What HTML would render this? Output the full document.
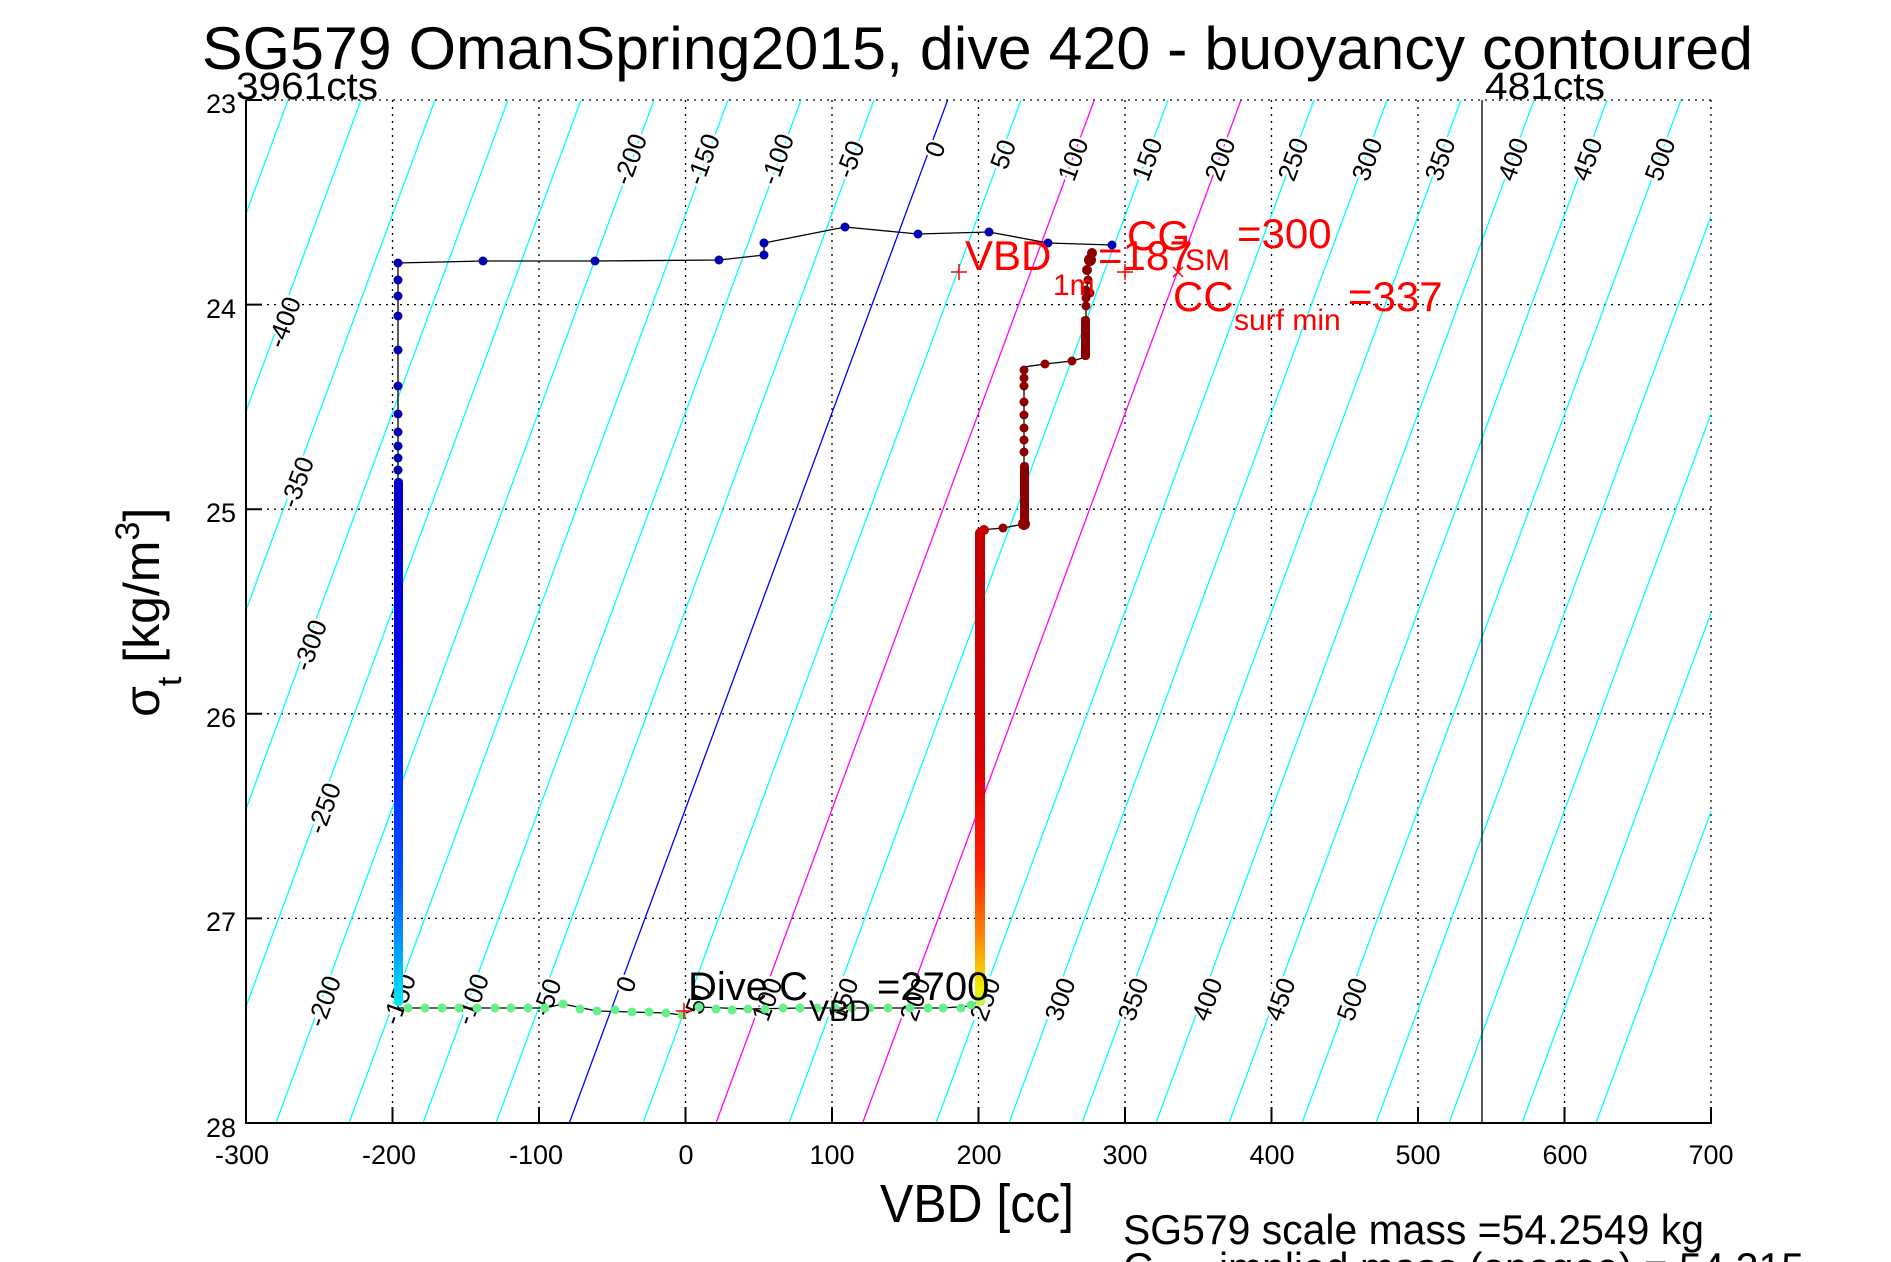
<!DOCTYPE html>
<html><head><meta charset="utf-8"><style>
html,body{margin:0;padding:0;background:#fff;}
svg{display:block;font-family:"Liberation Sans",sans-serif;}
</style></head><body>
<svg width="1891" height="1262" viewBox="0 0 1891 1262" xmlns="http://www.w3.org/2000/svg">
<defs>
<clipPath id="pc"><rect x="246" y="100" width="1465" height="1023"/></clipPath>
<linearGradient id="gb" x1="0" y1="480" x2="0" y2="1008" gradientUnits="userSpaceOnUse">
<stop offset="0" stop-color="#0000c8"/><stop offset="0.3" stop-color="#0000e8"/><stop offset="0.55" stop-color="#0028ff"/><stop offset="0.75" stop-color="#0050ff"/><stop offset="0.88" stop-color="#0098ff"/><stop offset="1" stop-color="#00f0f0"/></linearGradient>
<linearGradient id="gr" x1="0" y1="535" x2="0" y2="1008" gradientUnits="userSpaceOnUse">
<stop offset="0" stop-color="#c00000"/><stop offset="0.5" stop-color="#e00000"/><stop offset="0.7" stop-color="#ff2000"/><stop offset="0.85" stop-color="#ff8800"/><stop offset="0.96" stop-color="#f0f000"/><stop offset="1" stop-color="#b0ff50"/></linearGradient>
</defs>
<rect width="1891" height="1262" fill="#fff"/>
<g stroke="#000" stroke-width="1.3" stroke-dasharray="2,5">
<line x1="392.5" y1="100" x2="392.5" y2="1123"/><line x1="539" y1="100" x2="539" y2="1123"/><line x1="685.5" y1="100" x2="685.5" y2="1123"/><line x1="832" y1="100" x2="832" y2="1123"/><line x1="978.5" y1="100" x2="978.5" y2="1123"/><line x1="1125" y1="100" x2="1125" y2="1123"/><line x1="1271.5" y1="100" x2="1271.5" y2="1123"/><line x1="1418" y1="100" x2="1418" y2="1123"/><line x1="1564.5" y1="100" x2="1564.5" y2="1123"/><line x1="1711" y1="100" x2="1711" y2="1123"/>
<line x1="246" y1="100" x2="1711" y2="100"/><line x1="246" y1="304.6" x2="1711" y2="304.6"/><line x1="246" y1="509.2" x2="1711" y2="509.2"/><line x1="246" y1="713.8" x2="1711" y2="713.8"/><line x1="246" y1="918.4" x2="1711" y2="918.4"/>
</g>
<g clip-path="url(#pc)" stroke-width="1.3" fill="none">
<g stroke="#00ffff">
<line x1="-310" y1="1123" x2="68" y2="100"/><line x1="-237" y1="1123" x2="141" y2="100"/><line x1="-163" y1="1123" x2="215" y2="100"/><line x1="-90" y1="1123" x2="288" y2="100"/><line x1="-17" y1="1123" x2="361" y2="100"/><line x1="56" y1="1123" x2="435" y2="100"/><line x1="130" y1="1123" x2="508" y2="100"/><line x1="203" y1="1123" x2="581" y2="100"/><line x1="276" y1="1123" x2="654" y2="100"/><line x1="349" y1="1123" x2="728" y2="100"/><line x1="423" y1="1123" x2="801" y2="100"/><line x1="496" y1="1123" x2="874" y2="100"/>
<line x1="643" y1="1123" x2="1021" y2="100"/><line x1="789" y1="1123" x2="1168" y2="100"/><line x1="936" y1="1123" x2="1314" y2="100"/><line x1="1009" y1="1123" x2="1387" y2="100"/><line x1="1082" y1="1123" x2="1461" y2="100"/><line x1="1156" y1="1123" x2="1534" y2="100"/><line x1="1229" y1="1123" x2="1607" y2="100"/><line x1="1302" y1="1123" x2="1681" y2="100"/><line x1="1376" y1="1123" x2="1754" y2="100"/><line x1="1449" y1="1123" x2="1827" y2="100"/><line x1="1522" y1="1123" x2="1901" y2="100"/><line x1="1596" y1="1123" x2="1974" y2="100"/>
</g>
<line x1="569.3" y1="1123" x2="947.7" y2="100" stroke="#0000ff"/>
<line x1="716" y1="1123" x2="1094.3" y2="100" stroke="#ff00ff"/>
<line x1="862.6" y1="1123" x2="1241" y2="100" stroke="#ff00ff"/>
</g>
<g font-size="26" fill="#000" stroke="#fff" stroke-width="5" paint-order="stroke" text-anchor="middle" dominant-baseline="middle">
<text transform="translate(632,160) rotate(-69.7)">-200</text><text transform="translate(705,160) rotate(-69.7)">-150</text><text transform="translate(779,160) rotate(-69.7)">-100</text><text transform="translate(852,160) rotate(-69.7)">-50</text><text transform="translate(937,150) rotate(-69.7)">0</text><text transform="translate(1005,155) rotate(-69.7)">50</text><text transform="translate(1075,160) rotate(-69.7)">100</text><text transform="translate(1149,160) rotate(-69.7)">150</text><text transform="translate(1222,160) rotate(-69.7)">200</text><text transform="translate(1295,160) rotate(-69.7)">250</text><text transform="translate(1369,160) rotate(-69.7)">300</text><text transform="translate(1442,160) rotate(-69.7)">350</text><text transform="translate(1515,160) rotate(-69.7)">400</text><text transform="translate(1589,160) rotate(-69.7)">450</text><text transform="translate(1662,160) rotate(-69.7)">500</text>
<text transform="translate(286,323) rotate(-69.7)">-400</text><text transform="translate(299,483) rotate(-69.7)">-350</text><text transform="translate(312,646) rotate(-69.7)">-300</text><text transform="translate(326,809) rotate(-69.7)">-250</text><text transform="translate(326,1002) rotate(-69.7)">-200</text>
<text transform="translate(401,1000) rotate(-69.7)">-150</text><text transform="translate(474,1000) rotate(-69.7)">-100</text><text transform="translate(549,998) rotate(-69.7)">-50</text><text transform="translate(628,985) rotate(-69.7)">0</text><text transform="translate(700,1000) rotate(-69.7)">50</text><text transform="translate(769,1000) rotate(-69.7)">100</text><text transform="translate(845,1000) rotate(-69.7)">150</text><text transform="translate(917,1000) rotate(-69.7)">200</text><text transform="translate(987,1000) rotate(-69.7)">250</text><text transform="translate(1062,1000) rotate(-69.7)">300</text><text transform="translate(1135,1000) rotate(-69.7)">350</text><text transform="translate(1209,1000) rotate(-69.7)">400</text><text transform="translate(1282,1000) rotate(-69.7)">450</text><text transform="translate(1354,1000) rotate(-69.7)">500</text>
</g>
<line x1="1482" y1="100" x2="1482" y2="1123" stroke="#000" stroke-width="1.3"/>
<g stroke="#000" stroke-width="2" fill="none">
<line x1="246" y1="100" x2="246" y2="1124"/><line x1="245" y1="1123" x2="1712" y2="1123"/>
<path d="M392.5 1123v-16M539 1123v-16M685.5 1123v-16M832 1123v-16M978.5 1123v-16M1125 1123v-16M1271.5 1123v-16M1418 1123v-16M1564.5 1123v-16M1711 1123v-16"/>
<path d="M246 100h16M246 304.6h16M246 509.2h16M246 713.8h16M246 918.4h16"/>
</g>
<g font-size="27" fill="#000" text-anchor="end">
<text x="236" y="113">23</text><text x="236" y="318">24</text><text x="236" y="522">25</text><text x="236" y="727">26</text><text x="236" y="931">27</text><text x="236" y="1137">28</text>
</g>
<g font-size="27" fill="#000" text-anchor="middle">
<text x="242" y="1164">-300</text><text x="389" y="1164">-200</text><text x="536" y="1164">-100</text><text x="686" y="1164">0</text><text x="832" y="1164">100</text><text x="979" y="1164">200</text><text x="1125" y="1164">300</text><text x="1272" y="1164">400</text><text x="1418" y="1164">500</text><text x="1565" y="1164">600</text><text x="1711" y="1164">700</text>
</g>
<g fill="none" stroke="#000" stroke-width="1.3">
<polyline points="1112,245 1048,243 989,232 918,234 845,227 764,243 764,255 719,260 595,261 483,261 398,263 398,1008 408,1008 459,1008 545,1008 563,1004 597,1011 666,1013 682,1015 699,1007 748,1009 800,1008 870,1008 943,1008 971,1006 980,1000"/>
<polyline points="980,530 1003,528 1024,524 1024,367 1045,364 1072,361 1086,357 1086,300 1090,256"/>
</g>
<rect x="394" y="478" width="9" height="528" fill="url(#gb)" rx="4"/>
<g fill="#0000b0">
<circle cx="398" cy="263" r="4.5"/><circle cx="398" cy="280" r="4.5"/><circle cx="398" cy="296" r="4.5"/><circle cx="398" cy="316" r="4.5"/><circle cx="398" cy="350" r="4.5"/><circle cx="398" cy="386" r="4.5"/><circle cx="398" cy="414" r="4.5"/><circle cx="398" cy="432" r="4.5"/><circle cx="398" cy="446" r="4.5"/><circle cx="398" cy="458" r="4.5"/><circle cx="398" cy="470" r="4.5"/>
<circle cx="483" cy="261" r="4.5"/><circle cx="595" cy="261" r="4.5"/><circle cx="719" cy="260" r="4.5"/><circle cx="764" cy="255" r="4.5"/><circle cx="764" cy="243" r="4.5"/><circle cx="845" cy="227" r="4.5"/><circle cx="918" cy="234" r="4.5"/><circle cx="989" cy="232" r="4.5"/><circle cx="1048" cy="243" r="4.5"/><circle cx="1112" cy="245" r="4.5"/>
</g>
<g fill="#66ee88">
<circle cx="408" cy="1008" r="4.5"/><circle cx="425" cy="1008" r="4.5"/><circle cx="442" cy="1008" r="4.5"/><circle cx="459" cy="1008" r="4.5"/><circle cx="477" cy="1008" r="4.5"/><circle cx="495" cy="1008" r="4.5"/><circle cx="511" cy="1008" r="4.5"/><circle cx="528" cy="1008" r="4.5"/><circle cx="545" cy="1008" r="4.5"/><circle cx="563" cy="1004" r="4.5"/><circle cx="580" cy="1009" r="4.5"/><circle cx="597" cy="1011" r="4.5"/><circle cx="615" cy="1010" r="4.5"/><circle cx="632" cy="1012" r="4.5"/><circle cx="649" cy="1012" r="4.5"/><circle cx="666" cy="1013" r="4.5"/><circle cx="682" cy="1015" r="4.5"/><circle cx="699" cy="1007" r="4.5"/><circle cx="716" cy="1009" r="4.5"/><circle cx="732" cy="1010" r="4.5"/><circle cx="748" cy="1009" r="4.5"/><circle cx="765" cy="1009" r="4.5"/><circle cx="783" cy="1008" r="4.5"/><circle cx="800" cy="1008" r="4.5"/><circle cx="817" cy="1008" r="4.5"/><circle cx="835" cy="1008" r="4.5"/><circle cx="852" cy="1008" r="4.5"/><circle cx="870" cy="1008" r="4.5"/><circle cx="888" cy="1008" r="4.5"/><circle cx="910" cy="1008" r="4.5"/><circle cx="928" cy="1008" r="4.5"/><circle cx="943" cy="1008" r="4.5"/><circle cx="961" cy="1008" r="4.5"/><circle cx="971" cy="1005" r="4.5"/>
</g>
<rect x="975" y="528" width="10" height="478" fill="url(#gr)" rx="5"/>
<g fill="#8b0000">
<circle cx="1003" cy="528" r="4.5"/><circle cx="1024" cy="524" r="6"/>
<rect x="1020" y="462" width="9" height="64" rx="4"/>
<circle cx="1024" cy="452" r="4.5"/><circle cx="1024" cy="440" r="4.5"/><circle cx="1024" cy="428" r="4.5"/><circle cx="1024" cy="415" r="4.5"/><circle cx="1024" cy="402" r="4.5"/><circle cx="1024" cy="386" r="4.5"/><circle cx="1024" cy="378" r="4.5"/><circle cx="1024" cy="370" r="4.5"/>
<circle cx="1045" cy="364" r="4.5"/><circle cx="1072" cy="361" r="4.5"/>
<rect x="1081" y="316" width="9" height="44" rx="4"/>
<circle cx="1086" cy="306" r="4.5"/><circle cx="1086" cy="298" r="4.5"/><circle cx="1086" cy="290" r="4.5"/><circle cx="1090" cy="293" r="4.5"/><circle cx="1088" cy="280" r="4.5"/><circle cx="1087" cy="270" r="5"/><circle cx="1090" cy="260" r="6"/><circle cx="1092" cy="253" r="5"/>
</g>
<g fill="#c80000"><circle cx="984" cy="530" r="5"/><circle cx="980" cy="538" r="5"/></g>
<g stroke="#ff0000" stroke-width="1.5">
<path d="M951 272h16M959 264v16"/><path d="M1117 272h16M1125 264v16"/><path d="M1173 267l10 10M1183 267l-10 10"/><path d="M676 1011h16M684 1003v16"/>
</g>
<g fill="#ff0000">
<text x="1127" y="250" font-size="42">CG</text><text x="1185" y="270" font-size="30">SM</text><text x="1237" y="248" font-size="42">=300</text>
<text x="965" y="270" font-size="42">VBD</text><text x="1053" y="295" font-size="30">1m</text><text x="1098" y="270" font-size="42">=187</text>
<text x="1173" y="311" font-size="42">CC</text><text x="1234" y="330" font-size="30">surf min</text><text x="1348" y="311" font-size="42">=337</text>
</g>
<g fill="#000">
<text x="688" y="1000" font-size="40">Dive C</text><text x="809" y="1021" font-size="30">VBD</text><text x="877" y="1000" font-size="40">=2700</text>
</g>
<text x="202" y="69" font-size="60" textLength="1551" lengthAdjust="spacingAndGlyphs" fill="#000">SG579 OmanSpring2015, dive 420 - buoyancy contoured</text>
<text x="236" y="99" font-size="38" textLength="142" lengthAdjust="spacingAndGlyphs">3961cts</text>
<text x="1485" y="99" font-size="38" textLength="120" lengthAdjust="spacingAndGlyphs">481cts</text>
<text x="977" y="1222" font-size="54" text-anchor="middle" textLength="194" lengthAdjust="spacingAndGlyphs">VBD [cc]</text>
<text transform="translate(159,717) rotate(-90)" font-size="50"><tspan>σ</tspan><tspan font-size="34" dy="22">t</tspan><tspan dy="-22"> [kg/m</tspan><tspan font-size="34" dy="-20">3</tspan><tspan dy="20">]</tspan></text>
<text x="1123" y="1244" font-size="42" textLength="581" lengthAdjust="spacingAndGlyphs">SG579 scale mass =54.2549 kg</text>
<text x="1123" y="1282" font-size="42">C</text>
<text x="1219" y="1282" font-size="42" textLength="585" lengthAdjust="spacingAndGlyphs">implied mass (apogee) = 54.315</text>
</svg>
</body></html>
